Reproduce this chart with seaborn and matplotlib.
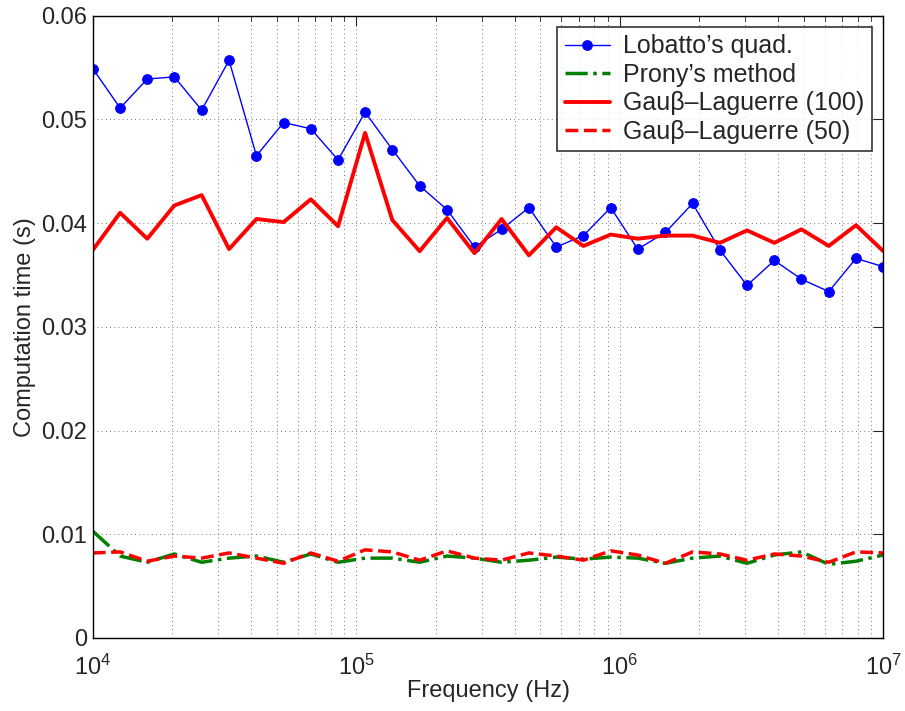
import numpy as np
import pandas as pd
import matplotlib
matplotlib.use("Agg")
import matplotlib.pyplot as plt
import matplotlib.ticker as mticker
import seaborn as sns

# === DATA ===
freq_hz = [1.00e4, 1.27e4, 1.61e4, 2.04e4, 2.59e4, 3.29e4, 4.18e4, 5.30e4, 6.72e4, 8.53e4,
           1.08e5, 1.37e5, 1.74e5, 2.21e5, 2.81e5, 3.56e5, 4.52e5, 5.74e5, 7.28e5, 9.24e5,
           1.17e6, 1.49e6, 1.89e6, 2.40e6, 3.04e6, 3.86e6, 4.89e6, 6.21e6, 7.88e6, 1.00e7]

lobatto = [0.0549, 0.0511, 0.0539, 0.0541, 0.0509, 0.0557, 0.0465, 0.0497, 0.0491, 0.0461,
           0.0507, 0.0471, 0.0436, 0.0413, 0.0377, 0.0394, 0.0415, 0.0377, 0.0388, 0.0415,
           0.0375, 0.0391, 0.0419, 0.0374, 0.0340, 0.0364, 0.0346, 0.0334, 0.0366, 0.0358]

prony = [0.0103, 0.0079, 0.0073, 0.0081, 0.0073, 0.0077, 0.0079, 0.0073, 0.0081, 0.0073,
         0.0077, 0.0077, 0.0073, 0.0079, 0.0077, 0.0073, 0.0075, 0.0078, 0.0076, 0.0078,
         0.0077, 0.0072, 0.0077, 0.0079, 0.0072, 0.0080, 0.0083, 0.0071, 0.0074, 0.0080]

gl100 = [0.0374, 0.0410, 0.0385, 0.0417, 0.0427, 0.0375, 0.0404, 0.0401, 0.0423, 0.0397,
         0.0487, 0.0403, 0.0373, 0.0405, 0.0371, 0.0404, 0.0369, 0.0396, 0.0378, 0.0389,
         0.0385, 0.0388, 0.0388, 0.0381, 0.0393, 0.0381, 0.0394, 0.0378, 0.0398, 0.0373]

gl50 = [0.0082, 0.0083, 0.0074, 0.0079, 0.0077, 0.0082, 0.0077, 0.0072, 0.0082, 0.0074,
        0.0085, 0.0083, 0.0075, 0.0084, 0.0077, 0.0075, 0.0082, 0.0079, 0.0075, 0.0084,
        0.0080, 0.0072, 0.0083, 0.0081, 0.0075, 0.0081, 0.0079, 0.0073, 0.0083, 0.0082]

y_ticks = [0, 0.01, 0.02, 0.03, 0.04, 0.05, 0.06]

# === STYLE ===
sns.set_style("white")
plt.rcParams["font.family"] = ["Liberation Sans", "DejaVu Sans"]
plt.rcParams["mathtext.default"] = "regular"
plt.rcParams["font.size"] = 17

fig = plt.figure(figsize=(9.05, 7.11), dpi=100)
ax = fig.add_axes([0.1025, 0.1027, 0.8735, 0.8752])

# === PLOT ===
sns.lineplot(x=freq_hz, y=lobatto, ax=ax, color="b", lw=1.0, marker="o", markersize=7,
             markeredgecolor="b", label="Lobatto\u2019s quad.")
sns.lineplot(x=freq_hz, y=prony, ax=ax, color=(0, 0.5, 0), lw=2.5, linestyle="-.",
             label="Prony\u2019s method")
sns.lineplot(x=freq_hz, y=gl100, ax=ax, color="r", lw=2.8, linestyle="-",
             label="Gau\u03b2\u2013Laguerre (100)")
sns.lineplot(x=freq_hz, y=gl50, ax=ax, color="r", lw=2.5, linestyle="--",
             label="Gau\u03b2\u2013Laguerre (50)")

ax.set_xscale("log")
ax.set_xlim(1e4, 1e7)
ax.set_ylim(0, 0.06)
ax.set_yticks(y_ticks)
ax.yaxis.set_major_formatter(mticker.FuncFormatter(lambda v, p: f"{v:g}"))
ax.xaxis.set_minor_locator(mticker.LogLocator(base=10, subs=np.arange(2, 10)))
ax.xaxis.set_minor_formatter(mticker.NullFormatter())

ax.set_xlabel("Frequency (Hz)", fontsize=17, labelpad=0)
ax.set_ylabel("Computation time (s)", fontsize=17, labelpad=4)

# MATLAB-ish box: ticks in on all sides, dotted grid
ax.tick_params(which="both", direction="in", top=True, right=True, labelsize=17)
ax.tick_params(which="major", length=7, width=0.8)
ax.tick_params(which="minor", length=3.5, width=0.6)
ax.tick_params(axis="x", which="major", pad=12)
ax.tick_params(axis="y", which="major", pad=4)
ax.grid(True, which="major", color="k", linestyle=(0, (1, 4)), lw=0.6, alpha=0.7)
ax.grid(True, which="minor", axis="x", color="k", linestyle=(0, (1, 4)), lw=0.6, alpha=0.7)
for s in ax.spines.values():
    s.set_color("k")
    s.set_linewidth(1.0)

leg = ax.legend(loc="upper right", fontsize=18, frameon=True, fancybox=False,
                handlelength=1.8, handletextpad=0.55, borderpad=0.3,
                borderaxespad=0.45, labelspacing=0.18)
leg.get_frame().set_edgecolor("k")
leg.get_frame().set_linewidth(1.2)

fig.savefig("out.png", dpi=100)
